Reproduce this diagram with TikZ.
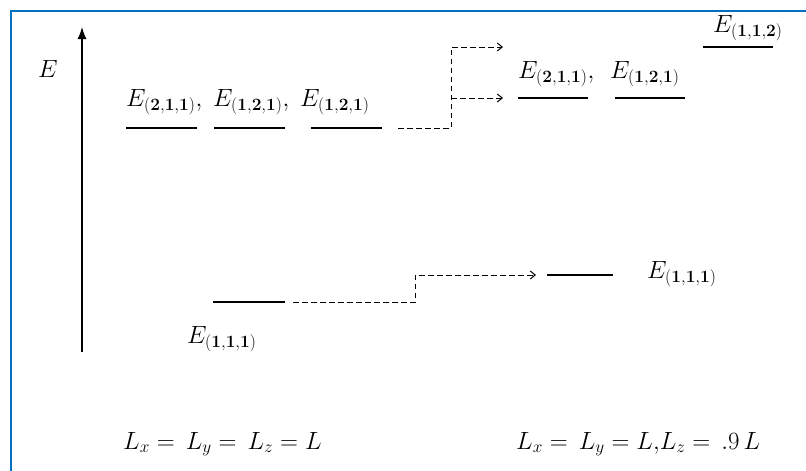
\documentclass[tikz,border=0pt]{standalone}
\usetikzlibrary{arrows.meta}
\definecolor{frameblue}{RGB}{0,112,192}
\newcommand\Sub[1]{_{\mbox{\fontsize{18.5}{18.5}\selectfont$\mathbf{#1}$}}}
\begin{document}
\begin{tikzpicture}[x=1pt,y=-1pt,
 lbl/.style={anchor=base west, inner sep=0pt, font=\fontsize{26}{26}\selectfont},
 captxt/.style={anchor=base west, inner sep=0pt, font=\fontsize{23}{23}\selectfont},
 lvl/.style={line width=1.2pt},
 conn/.style={line width=1pt, dash pattern=on 5.5pt off 3.5pt},
 tipd/.style={-{Straight Barb[length=5pt,width=8pt]}},
 frame/.style={draw=frameblue, line width=2pt}]
\useasboundingbox (0,0) rectangle (806,471);
\draw[frame] (11,471) -- (11,11) -- (806,11);
% axis
\coordinate (axb) at (82,352); \coordinate (axt) at (82,27);
\draw[line width=1.3pt, -{Latex[length=12pt,width=9pt]}] (axb) -- (axt);
\node[lbl] (elab) at (38,77) {$E$};
% upper left levels
\coordinate (ul1a) at (126,128); \coordinate (ul1b) at (197,128);
\coordinate (ul2a) at (214,128); \coordinate (ul2b) at (285,128);
\coordinate (ul3a) at (311,128); \coordinate (ul3b) at (382,128);
\draw[lvl] (ul1a) -- (ul1b); \draw[lvl] (ul2a) -- (ul2b); \draw[lvl] (ul3a) -- (ul3b);
\node[lbl] (l211) at (126,106) {$E\Sub{(2{,}1{,}1)}{,}$};
\node[lbl] (l121a) at (213,106) {$E\Sub{(1{,}2{,}1)}{,}$};
\node[lbl] (l121b) at (300,106) {$E\Sub{(1{,}2{,}1)}$};
% upper right levels
\coordinate (ur1a) at (518,98); \coordinate (ur1b) at (588,98);
\coordinate (ur2a) at (615,98); \coordinate (ur2b) at (685,98);
\coordinate (uta) at (703,47); \coordinate (utb) at (773,47);
\draw[lvl] (ur1a) -- (ur1b); \draw[lvl] (ur2a) -- (ur2b); \draw[lvl] (uta) -- (utb);
\node[lbl] (r211) at (518,78) {$E\Sub{(2{,}1{,}1)}{,}$};
\node[lbl] (r121) at (610,78) {$E\Sub{(1{,}2{,}1)}$};
\node[lbl] (r112) at (713,32) {$E\Sub{(1{,}1{,}2)}$};
% upper connector
\coordinate (c1s) at (398,128); \coordinate (c1k) at (451,128);
\coordinate (c1u) at (451,47); \coordinate (c1t) at (503,47);
\coordinate (c2k) at (451,98); \coordinate (c2t) at (503,98);
\draw[conn, tipd] (c1s) -- (c1k) -- (c1u) -- (c1t);
\draw[conn, tipd] (c2k) -- (c2t);
% lower levels
\coordinate (lla) at (213,302); \coordinate (llb) at (285,302);
\coordinate (lra) at (547,275); \coordinate (lrb) at (613,275);
\draw[lvl] (lla) -- (llb); \draw[lvl] (lra) -- (lrb);
\node[lbl] (l111) at (187,343) {$E\Sub{(1{,}1{,}1)}$};
\node[lbl] (r111) at (647,278) {$E\Sub{(1{,}1{,}1)}$};
\coordinate (c3s) at (293,302); \coordinate (c3k) at (415,302);
\coordinate (c3u) at (415,275); \coordinate (c3t) at (536,275);
\draw[conn, tipd] (c3s) -- (c3k) -- (c3u) -- (c3t);
% bottom captions
\node[captxt] (capl) at (123,449) {$L_x=\,L_y=\,L_z=L$};
\node[captxt] (capr) at (516,449) {$L_x=\,L_y=L{,}L_z=\,.9\,L$};
\end{tikzpicture}
\end{document}
